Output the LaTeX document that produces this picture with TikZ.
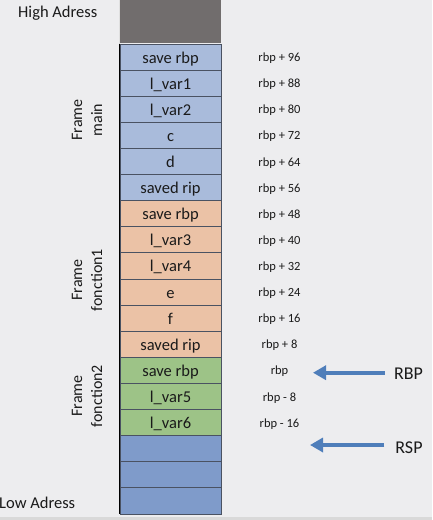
\documentclass[tikz,border=0pt]{standalone}
\usepackage{fontspec}
\setmainfont{Carlito}
\usetikzlibrary{arrows.meta}
\definecolor{bg}{HTML}{EDEDEF}
\definecolor{band}{HTML}{D9D9D9}
\definecolor{topc}{HTML}{716D6D}
\definecolor{mainc}{HTML}{A9BBDB}
\definecolor{f1c}{HTML}{EBC2A6}
\definecolor{f2c}{HTML}{9DC387}
\definecolor{lowc}{HTML}{7F9BCA}
\definecolor{cellline}{HTML}{4A5262}
\definecolor{ptrc}{HTML}{4F7EBA}
\definecolor{ink}{HTML}{1A1A1A}
\begin{document}
\begin{tikzpicture}[x=1pt,y=-1pt,
  cell/.style={draw=cellline,line width=0.8pt,minimum width=101pt,minimum height=26.11pt,
    inner sep=0pt,text height=12pt,text depth=0pt,text=ink,font=\fontsize{16.5}{18}\selectfont},
  offlab/.style={inner sep=0pt,text height=9.2pt,text depth=0pt,text=ink,font=\fontsize{12.5}{14}\selectfont},
  framelab/.style={rotate=90,align=center,inner sep=0pt,text=ink,font=\fontsize{16}{20}\selectfont},
  biglab/.style={inner sep=0pt,text height=11.6pt,text depth=0pt,text=ink,font=\fontsize{18}{20}\selectfont},
  addr/.style={inner sep=0pt,anchor=base west,text=ink,font=\fontsize{16.5}{18}\selectfont},
  ptr/.style={draw=ptrc,line width=4pt,-{Triangle[length=13pt,width=14pt]}}]
\useasboundingbox (0,0) rectangle (432,520);
\fill[bg] (0,0) rectangle (432,520);
\fill[band] (0,516.5) rectangle (432,520);

% stack cells
\foreach \t/\c [count=\i from 0] in {save rbp/mainc,l\_var1/mainc,l\_var2/mainc,c/mainc,d/mainc,saved rip/mainc,save rbp/f1c,l\_var3/f1c,l\_var4/f1c,e/f1c,f/f1c,saved rip/f1c,save rbp/f2c,l\_var5/f2c,l\_var6/f2c,{}/lowc,{}/lowc,{}/lowc}
  \node[cell,fill=\c] (cell\i) at (170.5,{57.055+26.11*\i}) {\t};

% top grey block
\node[fill=topc,minimum width=101pt,minimum height=44pt,inner sep=0pt,anchor=south] (topblk) at (cell0.north) {};
\draw[white!75!gray,line width=0.8pt] (topblk.south west) -- (topblk.north west);
\draw[black,line width=1.3pt] (cell0.north west) -- (cell17.south west);

% offsets
\foreach \t [count=\i from 0] in {rbp + 96,rbp + 88,rbp + 80,rbp + 72,rbp + 64,rbp + 56,rbp + 48,rbp + 40,rbp + 32,rbp + 24,rbp + 16,rbp + 8,rbp,rbp - 8,rbp - 16}
  \node[offlab] (off\i) at (279.5,{57.055+26.11*\i}) {\t};

% frame labels
\node[framelab] (fmain) at (87,120) {Frame\\main};
\node[framelab] (ffon1) at (87,280) {Frame\\fonction1};
\node[framelab] (ffon2) at (87,396) {Frame\\fonction2};

% address labels
\node[addr] (high) at (18,17.5) {High Adress};
\node[addr] (low) at (-1,508.5) {Low Adress};

% pointers
\node[biglab] (rbpL) at (408.5,373.8) {RBP};
\node[biglab] (rspL) at (409,447.8) {RSP};
\coordinate (rbptip) at (313,372.7);
\coordinate (rsptip) at (310,445);
\draw[ptr,shorten <=9pt] (rbptip -| rbpL.west) -- (rbptip);
\draw[ptr,shorten <=11pt] (rsptip -| rspL.west) -- (rsptip);
\end{tikzpicture}
\end{document}
